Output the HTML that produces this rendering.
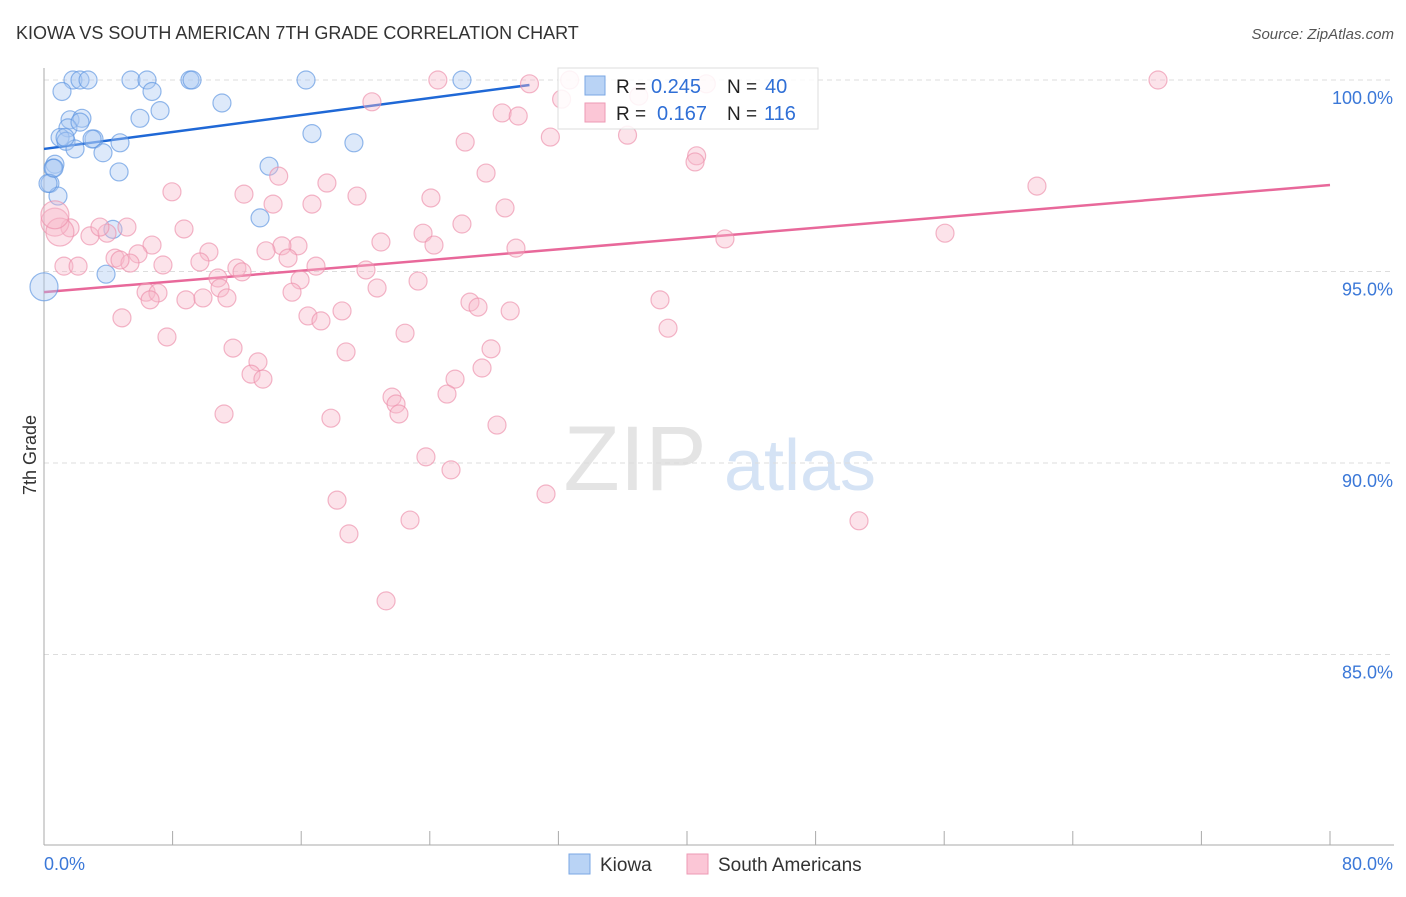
<!DOCTYPE html>
<html><head><meta charset="utf-8"><style>
body{margin:0;background:#fff;font-family:"Liberation Sans",sans-serif}
svg text{font-family:"Liberation Sans",sans-serif}
</style></head><body>
<svg width="1406" height="892" viewBox="0 0 1406 892">
<text x="16" y="39" font-size="18" fill="#333">KIOWA VS SOUTH AMERICAN 7TH GRADE CORRELATION CHART</text>
<text x="1394" y="39" font-size="15" fill="#555" text-anchor="end" font-style="italic">Source: ZipAtlas.com</text>
<g><text x="635" y="490" font-size="92" fill="#e4e4e4" font-family="Liberation Serif" text-anchor="middle">ZIP</text><text x="800" y="490" font-size="72" fill="#d5e3f5" text-anchor="middle">atlas</text></g>
<g id="grid"></g><g id="axes"></g><g id="lines"></g><g id="pts"></g>
<text x="36" y="455" font-size="18" fill="#333" transform="rotate(-90 36 455)" text-anchor="middle">7th Grade</text>
<g>
<rect x="558" y="68" width="260" height="61" fill="#fff" fill-opacity="0.85" stroke="#ddd"/>
<rect x="585" y="76" width="20" height="19" fill="#b9d3f5" stroke="#7aa7e4"/>
<rect x="585" y="103" width="20" height="19" fill="#fbc6d6" stroke="#ee9ab4"/>
<text x="616" y="93" font-size="19" fill="#222">R =</text>
<text x="651" y="93" font-size="20" fill="#2f6fd6">0.245</text>
<text x="727" y="93" font-size="19" fill="#222">N =</text>
<text x="765" y="93" font-size="20" fill="#2f6fd6">40</text>
<text x="616" y="120" font-size="19" fill="#222">R =</text>
<text x="657" y="120" font-size="20" fill="#2f6fd6">0.167</text>
<text x="727" y="120" font-size="19" fill="#222">N =</text>
<text x="764" y="120" font-size="20" fill="#2f6fd6">116</text>
</g>
<g>
<rect x="569" y="854" width="21" height="20" fill="#b9d3f5" stroke="#7aa7e4"/>
<text x="600" y="871" font-size="19" fill="#333">Kiowa</text>
<rect x="687" y="854" width="21" height="20" fill="#fbc6d6" stroke="#ee9ab4"/>
<text x="718" y="871" font-size="19" fill="#333">South Americans</text>
</g>
</svg>
<script>
const xTicks=[0,10,20,30,40,50,60,70,80];
const yTicks=[100,95,90,85];
const yTickLabels=["100.0%","95.0%","90.0%","85.0%"];
const xEndLabels=["0.0%","80.0%"];
const kiowaX=[1.80,2.24,2.74,5.41,6.41,9.08,9.21,16.3,26.0,1.12,6.72,7.22,11.07,5.97,1.62,2.36,1.49,1.0,1.37,3.11,4.73,1.93,3.67,19.28,16.67,0.68,0.56,4.67,14.0,0.37,0.87,13.44,4.29,3.86,0,1.31,2.99,2.24,0.25,0.62];
const kiowaY=[100,100,100,100,100,100,100,100,100,99.7,99.7,99.2,99.4,99.0,98.96,99.0,98.75,98.5,98.4,98.46,98.36,98.2,98.1,98.36,98.6,97.8,97.7,97.6,97.75,97.3,96.97,96.4,96.1,94.93,94.6,98.5,98.46,98.9,97.3,97.7];
const saX=[24.5,32.7,69.3,30.2,41.2,37.0,32.2,20.4,28.5,29.5,31.5,36.3,26.2,40.6,40.5,27.5,14.6,17.6,7.96,12.44,19.47,24.07,14.25,16.67,28.68,61.77,26.0,8.71,23.58,20.96,24.26,15.8,14.8,10.26,29.36,42.36,56.05,6.72,3.92,2.86,1.62,3.48,0.68,0.99,5.16,5.85,4.42,5.35,7.4,12.0,12.32,13.81,15.18,16.92,20.03,10.82,10.95,15.93,23.27,20.72,6.35,7.09,8.83,9.89,11.38,15.43,26.5,27.0,29.0,38.32,18.54,16.42,17.23,4.85,38.82,22.46,7.65,11.76,18.79,27.81,13.31,12.88,13.62,27.25,25.57,25.07,21.65,21.9,22.08,11.2,17.85,28.18,23.76,25.32,31.23,18.23,22.77,50.7,18.97,21.28,1.24,2.12,0.68,4.73,9.7,6.6];
const saY=[100,100,100,99.9,99.9,99.58,99.5,99.43,99.14,99.06,98.51,98.56,98.38,98.02,97.86,97.57,97.49,97.31,97.08,97.02,96.97,96.92,96.76,96.76,96.66,97.23,96.24,96.11,96.0,95.77,95.69,95.67,95.67,95.51,95.61,95.85,96.0,95.69,96.0,95.93,96.14,96.16,96.29,96.03,96.16,95.46,95.35,95.22,95.17,95.09,94.99,95.54,95.35,95.14,95.04,94.83,94.57,94.78,94.75,94.57,94.46,94.44,94.26,94.31,94.31,94.46,94.2,94.07,93.97,94.26,93.97,93.84,93.71,93.79,93.52,93.39,93.29,93.0,92.9,92.98,92.64,92.32,92.19,92.48,92.19,91.8,91.72,91.54,91.28,91.28,91.17,90.99,90.16,89.82,89.19,89.03,88.51,88.49,88.15,86.4,95.14,95.14,96.48,95.3,95.25,94.26];
const kiowaTrend=[0,98.2,30.2,99.87];
const saTrend=[0,94.46,80,97.26];
const NS='http://www.w3.org/2000/svg';
const X=v=>44+v*16.075, Y=v=>80+(100-v)*38.3;
function mk(tag,attrs,parent){const e=document.createElementNS(NS,tag);for(const k in attrs)e.setAttribute(k,attrs[k]);document.getElementById(parent).appendChild(e);return e;}
yTicks.forEach((t,i)=>{
 const g=mk('line',{x1:44,x2:1394,y1:Y(t),y2:Y(t),stroke:'#ddd','stroke-dasharray':'5,4'},'grid');
 
 
 const l=mk('text',{x:1393,y:Y(t)+24,'font-size':18,fill:'#3b78d8','text-anchor':'end'},'grid');
 l.textContent=yTickLabels[i];
 
 
});
const ax=mk('line',{x1:44,x2:44,y1:68,y2:845,stroke:'#aaa'},'axes');


const bx=mk('line',{x1:44,x2:1394,y1:845,y2:845,stroke:'#aaa'},'axes');


for(let i=0;i<=10;i++){const v=i*8;const t=mk('line',{x1:X(v),x2:X(v),y1:831,y2:845,stroke:'#aaa'},'axes');
 
 }
[[0,'start',44],[80,'end',1393]].forEach((d,i)=>{const t=mk('text',{x:d[2],y:870,'font-size':18,fill:'#3b78d8','text-anchor':d[1]},'axes');t.textContent=xEndLabels[i];
 
 });
function dots(xs,ys,fill,stroke,name){xs.forEach((x,i)=>{const big=(x<1.5&&((name==='kiowa'&&ys[i]<95)||(name==='south-american'&&ys[i]>95.9)));
 const c=mk('circle',{cx:X(x),cy:Y(ys[i]),r:big?14:9,fill:fill,'fill-opacity':0.4,stroke:stroke,'stroke-opacity':0.65,'stroke-width':1.2},'pts');
 
 });}
dots(kiowaX,kiowaY,'#a9c8f2','#5b93e0','kiowa');
dots(saX,saY,'#f8b8cb','#ec8fab','south-american');
const l1=mk('line',{x1:X(kiowaTrend[0]),y1:Y(kiowaTrend[1]),x2:X(kiowaTrend[2]),y2:Y(kiowaTrend[3]),stroke:'#1f68d6','stroke-width':2.5},'lines');


const l2=mk('line',{x1:X(saTrend[0]),y1:Y(saTrend[1]),x2:X(saTrend[2]),y2:Y(saTrend[3]),stroke:'#e8689a','stroke-width':2.5},'lines');


</script>
</body></html>
